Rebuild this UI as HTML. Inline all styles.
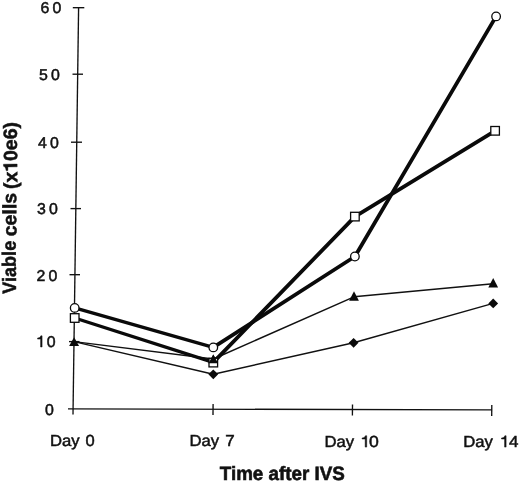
<!DOCTYPE html>
<html><head><meta charset="utf-8">
<style>
html,body{margin:0;padding:0;background:#fff;}
body{width:520px;height:483px;overflow:hidden;}
svg{display:block;filter:blur(0.35px);}
text{font-family:"Liberation Sans",sans-serif;fill:#111;text-rendering:geometricPrecision;}
.tk{font-size:15.6px;letter-spacing:3.2px;stroke:#111;stroke-width:0.5px;}
.xl{font-size:16px;stroke:#111;stroke-width:0.5px;}
.ti{font-size:19.3px;font-weight:bold;stroke:#111;stroke-width:0.6px;}
.yt{font-size:19.3px;stroke-width:0.5px;}
.g1{fill:#111;stroke:#111;stroke-width:0.5px;stroke-linejoin:miter;}
</style></head><body>
<svg width="520" height="483" viewBox="0 0 520 483">
<rect width="520" height="483" fill="#fff"/>
<!-- axes -->
<g stroke="#111" stroke-width="1.35" fill="none" stroke-linecap="butt">
<line x1="78.6" y1="7.7" x2="73" y2="414.5"/>
<line x1="68" y1="408.9" x2="491.7" y2="409.8"/>
<line x1="72.8" y1="7.7" x2="84.3" y2="7.7"/>
<line x1="72.5" y1="74.2" x2="83" y2="74.2"/>
<line x1="71" y1="142.2" x2="82" y2="142.2"/>
<line x1="70.5" y1="208.6" x2="81" y2="208.6"/>
<line x1="69.5" y1="274.7" x2="80" y2="274.7"/>
<line x1="69" y1="341.6" x2="79.5" y2="341.6"/>
<line x1="213.1" y1="403.9" x2="213" y2="415"/>
<line x1="352.5" y1="404.5" x2="352.4" y2="415.6"/>
<line x1="491.8" y1="405" x2="491.7" y2="416"/>
</g>
<!-- thin series -->
<g stroke="#111" stroke-width="1.45" fill="none" stroke-linejoin="round">
<polyline points="74,341.6 213.3,359 354,296.8 493.2,283.7"/>
<polyline points="74,341.6 213.3,374.3 353.6,342.8 493.2,303.4"/>
</g>
<!-- thick series -->
<g stroke="#0a0a0a" fill="none" stroke-linejoin="round" stroke-linecap="round">
<polyline stroke-width="3.3" points="74.7,318 213.3,362.4"/>
<polyline stroke-width="3.8" points="213.3,362.4 354.9,216.6 495.1,130.8"/>
<polyline stroke-width="3.3" points="74.7,307.9 213.3,347.4"/>
<polyline stroke-width="3.8" points="213.3,347.4 354.9,256.5 496.1,16.4"/>
</g>
<!-- markers: diamonds -->
<g fill="#0a0a0a">
<path d="M213.3,369.4 l4.9,4.9 -4.9,4.9 -4.9,-4.9z"/>
<path d="M353.6,337.9 l4.9,4.9 -4.9,4.9 -4.9,-4.9z"/>
<path d="M493.2,298.5 l4.9,4.9 -4.9,4.9 -4.9,-4.9z"/>
<!-- triangles -->
<path d="M74.1,337.2 l5,8.8 h-10z"/>
<path d="M213.3,354.6 l4.8,8.6 h-9.6z"/>
<path d="M354,291.2 l4.9,9.6 h-9.8z"/>
<path d="M493.2,278 l4.9,9.6 h-9.8z"/>
</g>
<!-- squares -->
<g fill="#fff" stroke="#0a0a0a" stroke-width="1.3">
<rect x="70.4" y="313.7" width="8.6" height="8.6"/>
<rect x="209" y="358.3" width="8.6" height="8.6"/>
<rect x="350.6" y="212.3" width="8.6" height="8.6"/>
<rect x="490.8" y="126.5" width="8.6" height="8.6"/>
<!-- circles -->
<circle cx="74.7" cy="307.9" r="4.3"/>
<circle cx="213.3" cy="347.4" r="4.3"/>
<circle cx="354.9" cy="256.5" r="4.3"/>
<circle cx="496.1" cy="16.4" r="4.3"/>
</g>
<!-- redraw triangle at day 7 over square -->
<path d="M213.3,354.6 l4.8,8.6 h-9.6z" fill="#0a0a0a"/>
<!-- y tick labels -->
<g class="tk">
<text transform="translate(40.4,13.2) scale(1.02,1)">60</text>
<text transform="translate(39.0,79.9) scale(1.02,1)">50</text>
<text transform="translate(38.0,147.5) scale(1.02,1)">40</text>
<text transform="translate(37.0,213.9) scale(1.02,1)">30</text>
<text transform="translate(36.4,280.5) scale(1.02,1)">20</text>
<path class="g1" transform="translate(0,-0.5)" d="M42.07,347.50 L40.60,347.50 L40.60,339.57 L37.60,339.57 L37.60,338.58 C39.22,338.49 40.24,337.89 40.86,336.37 L42.07,336.37 Z"/>
<text transform="translate(46.7,346.8) scale(1.02,1)">0</text>
<text transform="translate(45.0,414.5) scale(1.02,1)">0</text>
</g>
<!-- x labels -->
<g class="xl">
<text transform="translate(50.1,445.5) scale(1.04,1)">Day</text>
<text transform="translate(85.4,445.5) scale(1.03,1)">0</text>
<text transform="translate(189.6,446.3) scale(1.04,1)">Day</text>
<text transform="translate(225.3,446.3) scale(1.06,1)">7</text>
<text transform="translate(324.6,447.1) scale(1.04,1)">Day</text>
<path class="g1" transform="translate(0,-0.4)" d="M366.70,447.50 L365.19,447.50 L365.19,439.42 L362.10,439.42 L362.10,438.41 C363.76,438.32 364.81,437.71 365.46,436.16 L366.70,436.16 Z"/>
<text transform="translate(369,447.1) scale(1.1,1)">0</text>
<text transform="translate(463.2,447.1) scale(1.04,1)">Day</text>
<path class="g1" transform="translate(0,-0.4)" d="M506.10,447.50 L504.59,447.50 L504.59,439.42 L501.50,439.42 L501.50,438.41 C503.16,438.32 504.21,437.71 504.86,436.16 L506.10,436.16 Z"/>
<text transform="translate(508.9,447.1) scale(1.06,1)">4</text>
</g>
<text class="ti" x="219.8" y="480.3" textLength="125" lengthAdjust="spacingAndGlyphs">Time after IVS</text>
<text class="ti yt" transform="translate(16,293.8) rotate(-90.35)" textLength="53" lengthAdjust="spacingAndGlyphs">Viable</text>
<text class="ti yt" transform="translate(16.4,236.3) rotate(-90.35)" textLength="43.5" lengthAdjust="spacingAndGlyphs">cells</text>
<g transform="translate(17.3,189) rotate(-90.35) scale(1.012,1)">
<text class="ti yt" x="0" y="0">(x</text>
<path d="M24.60,0.00 L21.90,0.00 L21.90,-9.26 L18.33,-9.26 L18.33,-11.16 C20.67,-11.23 22.06,-11.97 22.60,-13.68 L24.60,-13.68 Z" fill="#111" stroke="#111" stroke-width="0.4"/>
<text class="ti yt" x="27.7" y="0">0e6)</text>
</g>
</svg>
</body></html>
